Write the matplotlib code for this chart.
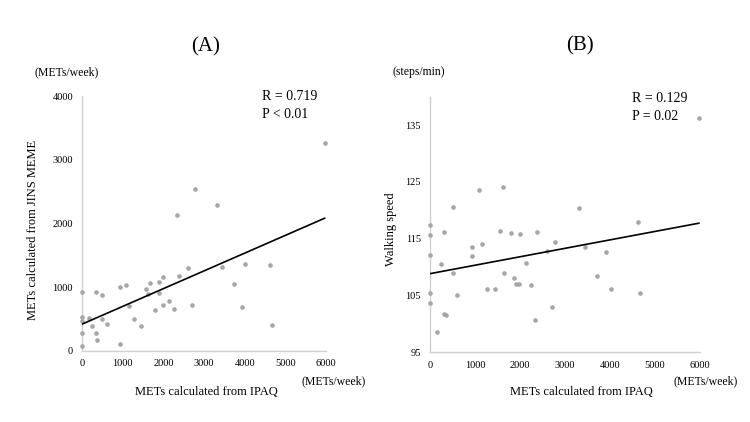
import numpy as np
import matplotlib.pyplot as plt

plt.rcParams["font.family"] = ["Liberation Serif", "DejaVu Serif"]

# (A) IPAQ METs vs JINS MEME METs
ipaq_a = [5966, 2788, 3330, 2330, 0, 335, 500, 940, 1080, 1150, 1275, 1455, 940,
          0, 0, 0, 0, 170, 245, 335, 368, 500, 613, 1570, 1660, 1625, 1895, 1890,
          2000, 1805, 1995, 2150, 2250, 2395, 2605, 2715, 3440, 3730, 3925, 4015,
          4620, 4675]
meme_a = [3265, 2540, 2295, 2140, 920, 925, 880, 1010, 1038, 710, 500, 390, 105,
          540, 475, 280, 75, 515, 395, 285, 175, 505, 425, 980, 1063, 895, 1075,
          905, 1160, 648, 715, 785, 660, 1175, 1300, 715, 1315, 1047, 695, 1370,
          1343, 410]

# (B) IPAQ METs vs walking speed
ipaq_b = [0, 0, 0, 0, 0, 150, 255, 320, 320, 365, 500, 500, 600, 925, 935, 1080,
          1150, 1265, 1445, 1565, 1615, 1655, 1800, 1875, 1900, 1980, 1995, 2125,
          2240, 2325, 2380, 2610, 2700, 2785, 3320, 3440, 3720, 3920, 4015, 4615,
          4675, 5975]
speed_b = [117.5, 115.6, 112.2, 105.5, 103.6, 98.6, 110.6, 116.2, 101.8, 101.6,
           120.5, 109.0, 105.1, 112.0, 113.6, 123.6, 114.1, 106.2, 106.2, 116.4,
           124.1, 109.0, 116.0, 108.1, 107.0, 107.0, 115.9, 110.8, 106.9, 100.6,
           116.2, 112.9, 103.0, 114.5, 120.4, 113.6, 108.5, 112.7, 106.2, 117.9,
           105.5, 136.3]

W, H = 750, 422
fig = plt.figure(figsize=(W / 100, H / 100), dpi=100)


def px(x, y):
    return x / W, 1 - y / H


def panel(rect, xs, ys, ylim, yticks):
    ax = fig.add_axes(rect)
    ax.scatter(xs, ys, s=11, color="#a6a6a6", zorder=4, linewidths=0,
               clip_on=False)
    slope, icpt = np.polyfit(xs, ys, 1)
    xl = np.array([0, max(xs)])
    ax.plot(xl, icpt + slope * xl, color="black", lw=1.2, zorder=5)
    ax.set_xlim(0, 6000)
    ax.set_ylim(*ylim)
    ax.set_xticks(range(0, 6001, 1000))
    ax.set_yticks(yticks)
    for s in ["top", "right"]:
        ax.spines[s].set_visible(False)
    for s in ["left", "bottom"]:
        ax.spines[s].set_color("#d0d0d0")
        ax.spines[s].set_linewidth(1)
        ax.spines[s].set_zorder(1)
    ax.tick_params(length=0, labelsize=7.5, colors="black")
    ax.tick_params(axis="x", pad=6)
    ax.tick_params(axis="y", pad=6.5)
    ax.patch.set_alpha(0)
    return ax


panel([82 / W, 1 - 351 / H, 244 / W, 255 / H], ipaq_a, meme_a, (0, 4000),
      range(0, 4001, 1000))
panel([430 / W, 1 - 352.3 / H, 270 / W, 255.6 / H], ipaq_b, speed_b, (95, 140),
      range(95, 136, 10))

fig.text(*px(206, 47), "(A)", fontsize=15, ha="center", va="center")
fig.text(*px(580, 46), "(B)", fontsize=15, ha="center", va="center")

fig.text(*px(67, 72), "(METs/week)", fontsize=8.5, ha="center", va="center")
fig.text(*px(419, 72), "(steps/min)", fontsize=8.5, ha="center", va="center")

fig.text(*px(33, 230), "METs calculated from JINS MEME", fontsize=9,
         rotation=90, ha="center", va="center")
fig.text(*px(391, 229), "Walking speed", fontsize=9, rotation=90,
         ha="center", va="center")

fig.text(*px(206, 392), "METs calculated from IPAQ", fontsize=9,
         ha="center", va="center")
fig.text(*px(581, 392), "METs calculated from IPAQ", fontsize=9,
         ha="center", va="center")
fig.text(*px(334, 381), "(METs/week)", fontsize=8.5, ha="center", va="center")
fig.text(*px(706, 381), "(METs/week)", fontsize=8.5, ha="center", va="center")

fig.text(*px(262, 96), "R = 0.719", fontsize=10, ha="left", va="center")
fig.text(*px(262, 114), "P < 0.01", fontsize=10, ha="left", va="center")
fig.text(*px(632, 99), "R = 0.129", fontsize=10, ha="left", va="center")
fig.text(*px(632, 116), "P = 0.02", fontsize=10, ha="left", va="center")

fig.savefig("out.png", dpi=100)
